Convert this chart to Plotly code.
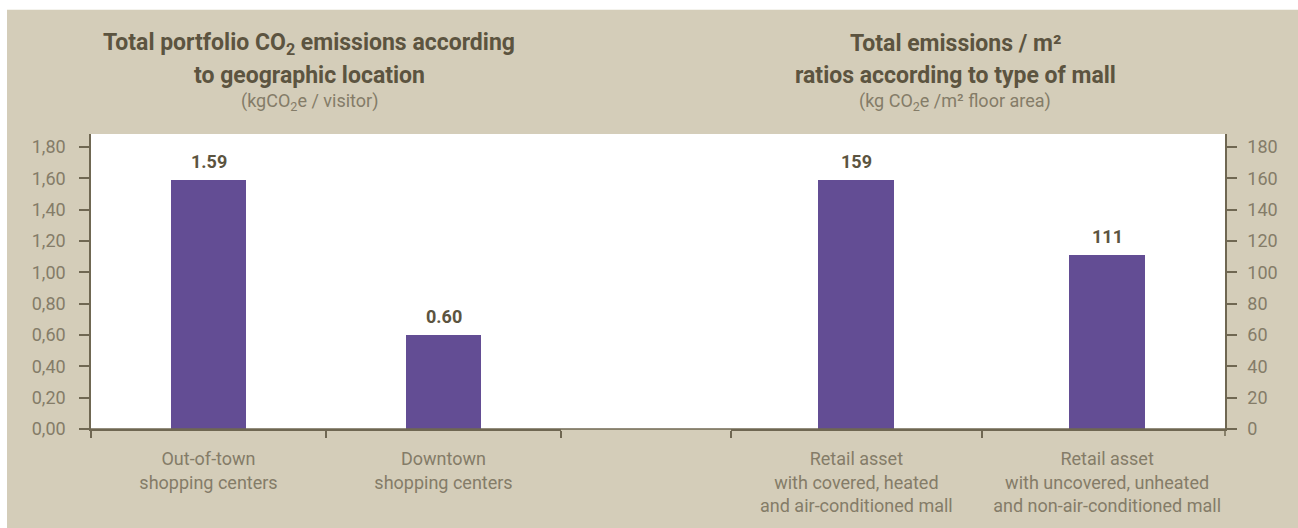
import plotly.graph_objects as go

# Left panel: emissions per visitor by geographic location
location_labels = ["Out-of-town<br>shopping centers", "Downtown<br>shopping centers"]
location_values = [1.59, 0.60]

# Right panel: emissions per m² by type of mall
mall_labels = [
    "Retail asset<br>with covered, heated<br>and air-conditioned mall",
    "Retail asset<br>with uncovered, unheated<br>and non-air-conditioned mall",
]
mall_values = [159, 111]

left_ticks = [0.0, 0.2, 0.4, 0.6, 0.8, 1.0, 1.2, 1.4, 1.6, 1.8]
right_ticks = [0, 20, 40, 60, 80, 100, 120, 140, 160, 180]

BEIGE = "#d4cdb9"
PURPLE = "#634d94"
TITLE = "#5c5440"
TICK = "#847c68"
AXIS = "#6f6752"
FONT = "Roboto"

W, H = 1298, 528
ML, MR, MT, MB = 91, 73, 134, 97
PW, PH = W - ML - MR, H - MT - MB


def px_x(x):
    return (x - ML) / PW


def px_y(y):
    return (H - MB - y) / PH


fig = go.Figure()

fig.add_trace(go.Bar(
    x=location_labels, y=location_values, xaxis="x", yaxis="y",
    marker=dict(color=PURPLE, line=dict(width=0)), width=0.323,
    hoverinfo="skip", showlegend=False,
))
fig.add_trace(go.Bar(
    x=mall_labels, y=mall_values, xaxis="x2", yaxis="y2",
    marker=dict(color=PURPLE, line=dict(width=0)), width=0.303,
    hoverinfo="skip", showlegend=False,
))

annotations = []
# value labels above the bars
for lab, val in zip(location_labels, location_values):
    annotations.append(dict(
        x=lab, y=val, xref="x", yref="y", text=f"<b>{val:.2f}</b>",
        showarrow=False, yanchor="bottom", yshift=6,
        font=dict(family=FONT, size=18, color=TITLE),
    ))
for lab, val in zip(mall_labels, mall_values):
    annotations.append(dict(
        x=lab, y=val, xref="x2", yref="y2", text=f"<b>{val}</b>",
        showarrow=False, yanchor="bottom", yshift=6,
        font=dict(family=FONT, size=18, color=TITLE),
    ))


# panel titles: two bold lines and a unit line
def title_block(cx, line1, line2, sub):
    out = []
    for text, cy, size, bold in ((line1, 43, 23, True), (line2, 75, 23, True), (sub, 102, 18, False)):
        out.append(dict(
            x=px_x(cx), y=px_y(cy), xref="paper", yref="paper",
            text=f"<b>{text}</b>" if bold else text,
            showarrow=False, xanchor="center", yanchor="middle",
            font=dict(family=FONT, size=size, color=TITLE if bold else TICK),
        ))
    return out


annotations += title_block(309, "Total portfolio CO<sub>2</sub> emissions according",
                           "to geographic location", "(kgCO<sub>2</sub>e / visitor)")
annotations += title_block(955, "Total emissions / m²",
                           "ratios according to type of mall", "(kg CO<sub>2</sub>e /m² floor area)")

shapes = [
    # beige panel
    dict(type="rect", xref="paper", yref="paper",
         x0=px_x(7), x1=px_x(W) + 0.01, y0=px_y(H) - 0.01, y1=px_y(9),
         fillcolor=BEIGE, line=dict(width=0), layer="below"),
    # white plotting area spanning both panels
    dict(type="rect", xref="paper", yref="paper", x0=0, x1=1, y0=0, y1=1,
         fillcolor="white", line=dict(width=0), layer="below"),
    # continuous baseline
    dict(type="line", xref="paper", yref="paper", x0=0, x1=1, y0=0, y1=0,
         line=dict(color=AXIS, width=1.5), layer="above"),
    # closing tick at the right end of the baseline
    dict(type="line", xref="paper", yref="paper", x0=1, x1=1, y0=0, y1=px_y(H - MB + 7),
         line=dict(color=AXIS, width=1.5), layer="above"),
]

axis_common = dict(
    showgrid=False, zeroline=False, showline=True, linecolor=AXIS, linewidth=1.5,
    ticks="outside", tickcolor=AXIS, tickwidth=1.5, fixedrange=True,
)

fig.update_layout(
    width=W, height=H, autosize=False,
    margin=dict(l=ML, r=MR, t=MT, b=MB, pad=0),
    paper_bgcolor="white", plot_bgcolor="rgba(0,0,0,0)",
    separators=",.",
    font=dict(family=FONT, color=TICK),
    bargap=0,
    xaxis=dict(
        **axis_common, type="category", domain=[0, px_x(561)],
        range=[-0.5, 1.5], tickson="boundaries", ticklen=7,
        tickfont=dict(family=FONT, size=18, color=TICK), ticklabelstandoff=13,
        anchor="y",
    ),
    xaxis2=dict(
        **axis_common, type="category", domain=[px_x(731), 1],
        range=[-0.5, 1.47], tickson="boundaries", ticklen=7,
        tickfont=dict(family=FONT, size=18, color=TICK), ticklabelstandoff=13,
        anchor="y2",
    ),
    yaxis=dict(
        **axis_common, range=[0, 1.882], tickvals=left_ticks, tickformat=".2f",
        ticklen=10, tickfont=dict(family=FONT, size=18, color=TICK),
        ticklabelstandoff=10, anchor="x", side="left",
    ),
    yaxis2=dict(
        **axis_common, range=[0, 188.2], tickvals=right_ticks,
        ticklen=10, tickfont=dict(family=FONT, size=18, color=TICK),
        ticklabelstandoff=7, anchor="x2", side="right",
    ),
    annotations=annotations,
    shapes=shapes,
)

fig.write_html("out.html")
